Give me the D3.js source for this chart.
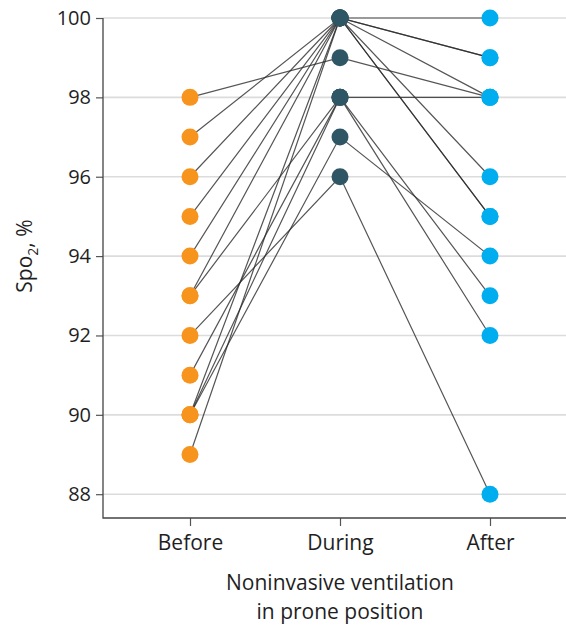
<!DOCTYPE html>
<html>
<head>
<meta charset="utf-8">
<script src="https://cdn.jsdelivr.net/npm/d3@7/dist/d3.min.js"></script>
<style>
  html, body { margin: 0; padding: 0; background: #fff; }
  svg { display: block; }
  text { font-family: "Open Sans", "Noto Sans", sans-serif; fill: #1f1f1f; }
</style>
</head>
<body>
<svg id="chart" width="566" height="627"></svg>
<script>
// Measurement stages along the x axis
const stages = ["Before", "During", "After"];

// SpO2 (%) per patient at each stage
const spo2Before = [98, 97, 96, 95, 94, 93, 93, 92, 91, 90, 90, 90, 89];
const spo2During = [99, 100, 100, 100, 100, 100, 98, 96, 98, 100, 98, 97, 100];
const spo2After  = [98, 100, 99, 99, 98, 96, 98, 88, 93, 95, 92, 94, 95];

// Y axis ticks
const yTicks = [88, 90, 92, 94, 96, 98, 100];

const stageColors = ["#F7941E", "#2F5664", "#00AEEF"];

const svg = d3.select("#chart");
const plotLeft = 103, plotRight = 566, plotTop = 18, plotBottom = 518;

const x = d3.scalePoint().domain(stages).range([190, 490]);
const y = d3.scaleLinear().domain([87.4, 100]).range([plotBottom, plotTop]);

// Horizontal grid lines
svg.append("g")
  .selectAll("line")
  .data(yTicks)
  .join("line")
  .attr("x1", plotLeft).attr("x2", plotRight)
  .attr("y1", d => y(d)).attr("y2", d => y(d))
  .attr("stroke", "#dcdcdc")
  .attr("stroke-width", 1.6);

// Patient trajectories
const patients = spo2Before.map((b, i) => [b, spo2During[i], spo2After[i]]);
const line = d3.line().x((d, i) => x(stages[i])).y(d => y(d));

svg.append("g")
  .selectAll("path")
  .data(patients)
  .join("path")
  .attr("d", line)
  .attr("fill", "none")
  .attr("stroke", "#2a2a2a")
  .attr("stroke-opacity", 0.8)
  .attr("stroke-width", 1.2);

// Points for each stage
const pointGroups = [spo2Before, spo2During, spo2After];
pointGroups.forEach((vals, si) => {
  svg.append("g")
    .selectAll("circle")
    .data(vals)
    .join("circle")
    .attr("cx", x(stages[si]))
    .attr("cy", d => y(d))
    .attr("r", 8.5)
    .attr("fill", stageColors[si]);
});

// Y axis
const yAxis = svg.append("g")
  .attr("transform", `translate(${plotLeft},0)`)
  .call(d3.axisLeft(y).tickValues(yTicks).tickSize(7).tickPadding(5).tickSizeOuter(0));
yAxis.select(".domain").remove();
yAxis.selectAll(".tick line").attr("stroke", "#555").attr("stroke-width", 1.2);
yAxis.selectAll(".tick text").style("font-size", "20px").attr("fill", "#1f1f1f");

// X axis
const xAxis = svg.append("g")
  .attr("transform", `translate(0,${plotBottom})`)
  .call(d3.axisBottom(x).tickSize(8).tickPadding(9).tickSizeOuter(0));
xAxis.select(".domain").remove();
xAxis.selectAll(".tick line").attr("stroke", "#555").attr("stroke-width", 1.2);
xAxis.selectAll(".tick text").style("font-size", "21px").attr("fill", "#1f1f1f");

// Axis frame lines
svg.append("path")
  .attr("d", `M${plotLeft},${plotTop}V${plotBottom}H${plotRight}`)
  .attr("fill", "none")
  .attr("stroke", "#444")
  .attr("stroke-width", 1.3);

// Y axis title
const yTitle = svg.append("text")
  .attr("transform", `translate(32,${(plotTop + y(88)) / 2}) rotate(-90)`)
  .attr("text-anchor", "middle")
  .style("font-size", "21px");
yTitle.append("tspan").text("Spo");
yTitle.append("tspan").attr("dy", 6).style("font-size", "14px").text("2");
yTitle.append("tspan").attr("dy", -6).text(", %");

// X axis title
const xTitle = svg.append("text")
  .attr("text-anchor", "middle")
  .style("font-size", "21px");
xTitle.append("tspan").attr("x", x("During")).attr("y", 590).text("Noninvasive ventilation");
xTitle.append("tspan").attr("x", x("During")).attr("y", 619).text("in prone position");
</script>
</body>
</html>
